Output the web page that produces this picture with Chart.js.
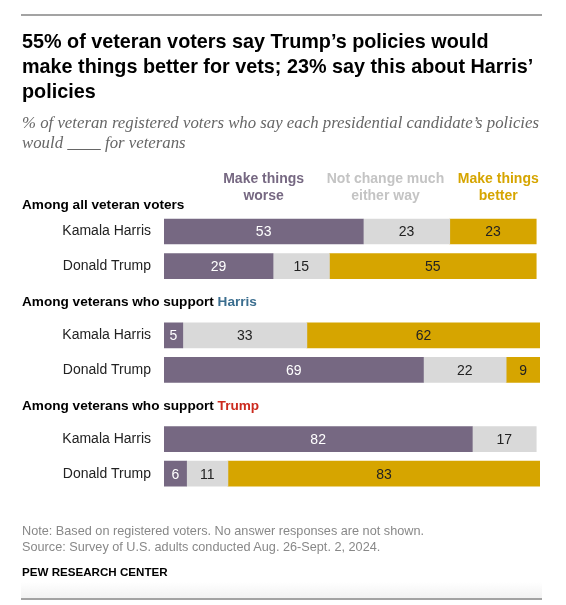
<!DOCTYPE html>
<html>
<head>
<meta charset="utf-8">
<script src="https://cdn.jsdelivr.net/npm/chart.js@4.4.1/dist/chart.umd.min.js"></script>
<style>
  html, body { margin: 0; padding: 0; background: #fff; }
  body { width: 566px; height: 605px; position: relative; overflow: hidden; font-family: 'Liberation Sans', Arial, sans-serif; }
  #chart { position: absolute; left: 0; top: 0; }
  .rule { position: absolute; left: 21px; width: 521px; height: 2px; background: #a3a3a3; }
  .title { position: absolute; left: 22px; top: 29px; font-weight: bold; font-size: 19.8px; line-height: 25px; color: #000; white-space: nowrap; }
  .sub { position: absolute; left: 22px; top: 113px; font-family: 'Liberation Serif', serif; font-style: italic; font-size: 16.8px; line-height: 20px; color: #666; white-space: nowrap; }
  .note { position: absolute; left: 22px; top: 522.5px; font-size: 12.7px; line-height: 16px; color: #888; white-space: nowrap; }
  .brand { position: absolute; left: 22px; top: 564px; font-size: 11.6px; line-height: 16px; font-weight: bold; color: #000; }
  .fade { position: absolute; left: 21px; width: 521px; top: 582px; height: 16px; background: linear-gradient(#fff, #f2f2f2); }
</style>
</head>
<body>
<canvas id="chart" width="566" height="605"></canvas>
<div class="rule" style="top:14px"></div>
<div class="title">55% of veteran voters say Trump’s policies would<br>make things better for vets; 23% say this about Harris’<br>policies</div>
<div class="sub">% of veteran registered voters who say each presidential candidate’s policies<br>would <u>&nbsp;&nbsp;&nbsp;&nbsp;&nbsp;&nbsp;&nbsp;&nbsp;</u> for veterans</div>
<div class="note">Note: Based on registered voters. No answer responses are not shown.<br>Source: Survey of U.S. adults conducted Aug. 26-Sept. 2, 2024.</div>
<div class="brand">PEW RESEARCH CENTER</div>
<div class="fade"></div>
<div class="rule" style="top:598px"></div>
<script>
// rows: empty label = group header row
const rowLabels = ['', 'Kamala Harris', 'Donald Trump', '', 'Kamala Harris', 'Donald Trump', '', 'Kamala Harris', 'Donald Trump'];
const worse    = [null, 53, 29, null, 5, 69, null, 82, 6];
const noChange = [null, 23, 15, null, 33, 22, null, 17, 11];
const better   = [null, 23, 55, null, 62, 9, null, null, 83];

const seriesNames = [['Make things', 'worse'], ['Not change much', 'either way'], ['Make things', 'better']];
const seriesColors = ['#766882', '#d9d9d9', '#d6a500'];
const headerColors = ['#766882', '#c4c4c4', '#d6a500'];
const labelColors = ['#ffffff', '#222222', '#222222'];

const groupRows = [0, 3, 6];
const groupText = ['Among all veteran voters', 'Among veterans who support ', 'Among veterans who support '];
const groupName = ['', 'Harris', 'Trump'];
const groupNameColors = ['#000', '#3b6e8f', '#cc2a1e'];

// numbers inside the segments
const segmentLabels = {
  id: 'segmentLabels',
  afterDatasetsDraw(chart) {
    const ctx = chart.ctx;
    ctx.save();
    ctx.font = '14px "Liberation Sans", Arial, sans-serif';
    ctx.textAlign = 'center';
    ctx.textBaseline = 'middle';
    chart.data.datasets.forEach((ds, i) => {
      chart.getDatasetMeta(i).data.forEach((bar, j) => {
        const v = ds.data[j];
        if (!v) return;
        ctx.fillStyle = labelColors[i];
        ctx.fillText(v, (bar.x + bar.base) / 2, bar.y + 1);
      });
    });
    ctx.restore();
  }
};

// column headers above the bars and the group headings
const headings = {
  id: 'headings',
  afterDraw(chart) {
    const ctx = chart.ctx;
    const x = chart.scales.x, y = chart.scales.y;
    ctx.save();
    ctx.textBaseline = 'middle';
    ctx.font = 'bold 14px "Liberation Sans", Arial, sans-serif';
    ctx.textAlign = 'center';
    const centers = [x.getPixelForValue(26.5), x.getPixelForValue(58.9), x.getPixelForValue(88.9)];
    seriesNames.forEach((lines, i) => {
      ctx.fillStyle = headerColors[i];
      ctx.fillText(lines[0], centers[i], 179);
      ctx.fillText(lines[1], centers[i], 196.5);
    });
    ctx.font = 'bold 13.6px "Liberation Sans", Arial, sans-serif';
    ctx.textAlign = 'left';
    groupRows.forEach((r, g) => {
      const yy = y.getPixelForValue(r) + (g === 0 ? 8 : 1.5);
      ctx.fillStyle = '#000';
      ctx.fillText(groupText[g], 22, yy);
      const w = ctx.measureText(groupText[g]).width;
      ctx.fillStyle = groupNameColors[g];
      ctx.fillText(groupName[g], 22 + w, yy);
    });
    ctx.restore();
  }
};

Chart.defaults.font.family = '"Liberation Sans", Arial, sans-serif';

new Chart(document.getElementById('chart'), {
  type: 'bar',
  data: {
    labels: rowLabels,
    datasets: [
      { label: 'Make things worse', data: worse, backgroundColor: seriesColors[0] },
      { label: 'Not change much either way', data: noChange, backgroundColor: seriesColors[1] },
      { label: 'Make things better', data: better, backgroundColor: seriesColors[2] }
    ]
  },
  options: {
    indexAxis: 'y',
    responsive: false,
    animation: false,
    layout: { padding: { top: 179.6, bottom: 114, right: 26, left: 0 } },
    datasets: { bar: { barThickness: 25 } },
    scales: {
      x: { stacked: true, min: 0, max: 100, display: false },
      y: {
        stacked: true,
        grid: { display: false, drawTicks: false },
        border: { display: false },
        ticks: { color: '#222', font: { size: 14 }, padding: 13 },
        afterFit(scale) { scale.width = 164; }
      }
    },
    plugins: {
      legend: { display: false },
      tooltip: { enabled: false }
    }
  },
  plugins: [segmentLabels, headings]
});
</script>
</body>
</html>
